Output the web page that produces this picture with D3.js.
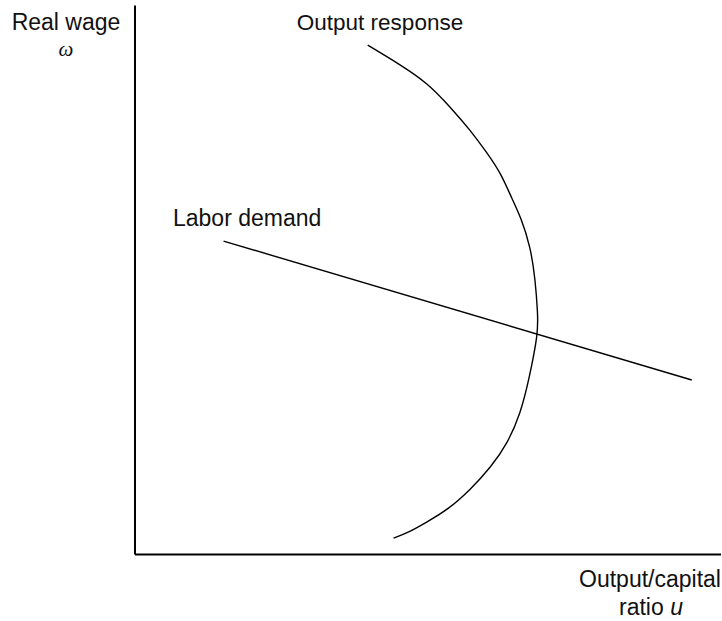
<!DOCTYPE html>
<html>
<head>
<meta charset="utf-8">
<script src="https://cdn.jsdelivr.net/npm/d3@7"></script>
<style>
  html, body { margin: 0; padding: 0; background: #fff; }
  svg text { font-family: "Liberation Sans", Arial, Helvetica, sans-serif; fill: #111; }
</style>
</head>
<body>
<svg id="chart" width="722" height="621"></svg>
<script>
// Output response curve (u = output/capital ratio, w = real wage), abstract units 0..100
const outputU = [39.8, 45.4, 50.0, 53.9, 57.3, 60.2, 62.5, 64.5, 65.9, 67.6, 68.4, 68.8, 68.9, 67.3, 65.9, 63.7, 60.8, 57.3, 53.4, 49.5, 46.9, 44.2];
const outputW = [92.7, 89.1, 85.8, 81.4, 77.2, 73.0, 69.4, 64.5, 61.4, 55.9, 49.9, 43.9, 40.3, 31.7, 25.7, 20.2, 15.8, 11.7, 8.0, 5.6, 4.0, 2.9];
// Labor demand line
const laborU = [15.2, 95.1];
const laborW = [57.0, 31.7];
// Labels
const yLabel = ["Real wage", "ω"];
const xLabel = ["Output/capital", "ratio "];
const curveLabels = ["Output response", "Labor demand"];

const svg = d3.select("#chart");
const x = d3.scaleLinear().domain([0, 100]).range([134.5, 720.5]);
const y = d3.scaleLinear().domain([0, 100]).range([554, 5]);

// Axes (no ticks)
svg.append("g").attr("transform", `translate(0,${y(0)})`)
  .call(d3.axisBottom(x).tickValues([]).tickSizeOuter(0))
  .select(".domain").attr("stroke", "#000").attr("stroke-width", 2);
svg.append("g").attr("transform", `translate(${x(0)},0)`)
  .call(d3.axisLeft(y).tickValues([]).tickSizeOuter(0))
  .select(".domain").attr("stroke", "#000").attr("stroke-width", 2);

const smooth = d3.line().x(d => x(d[0])).y(d => y(d[1])).curve(d3.curveBasis);
const straight = d3.line().x(d => x(d[0])).y(d => y(d[1]));

svg.append("path")
  .datum(outputU.map((u, i) => [u, outputW[i]]))
  .attr("fill", "none").attr("stroke", "#000").attr("stroke-width", 1.4)
  .attr("d", smooth);

svg.append("path")
  .datum(laborU.map((u, i) => [u, laborW[i]]))
  .attr("fill", "none").attr("stroke", "#000").attr("stroke-width", 1.4)
  .attr("d", straight);

// Text labels
svg.append("text").attr("x", 66).attr("y", 30).attr("text-anchor", "middle")
  .attr("font-size", 23).text(yLabel[0]);
svg.append("text").attr("x", 66).attr("y", 56).attr("text-anchor", "middle")
  .attr("font-size", 21).style("font-family", "'Liberation Serif', 'Times New Roman', serif")
  .style("font-style", "italic").text(yLabel[1]);

svg.append("text").attr("x", 380).attr("y", 30).attr("text-anchor", "middle")
  .attr("font-size", 22.5).text(curveLabels[0]);
svg.append("text").attr("x", 173).attr("y", 226).attr("text-anchor", "start")
  .attr("font-size", 23).text(curveLabels[1]);

svg.append("text").attr("x", 650).attr("y", 587).attr("text-anchor", "middle")
  .attr("font-size", 23).text(xLabel[0]);
const t2 = svg.append("text").attr("x", 651).attr("y", 615).attr("text-anchor", "middle")
  .attr("font-size", 23);
t2.append("tspan").text(xLabel[1]);
t2.append("tspan").style("font-style", "italic").text("u");
</script>
</body>
</html>
